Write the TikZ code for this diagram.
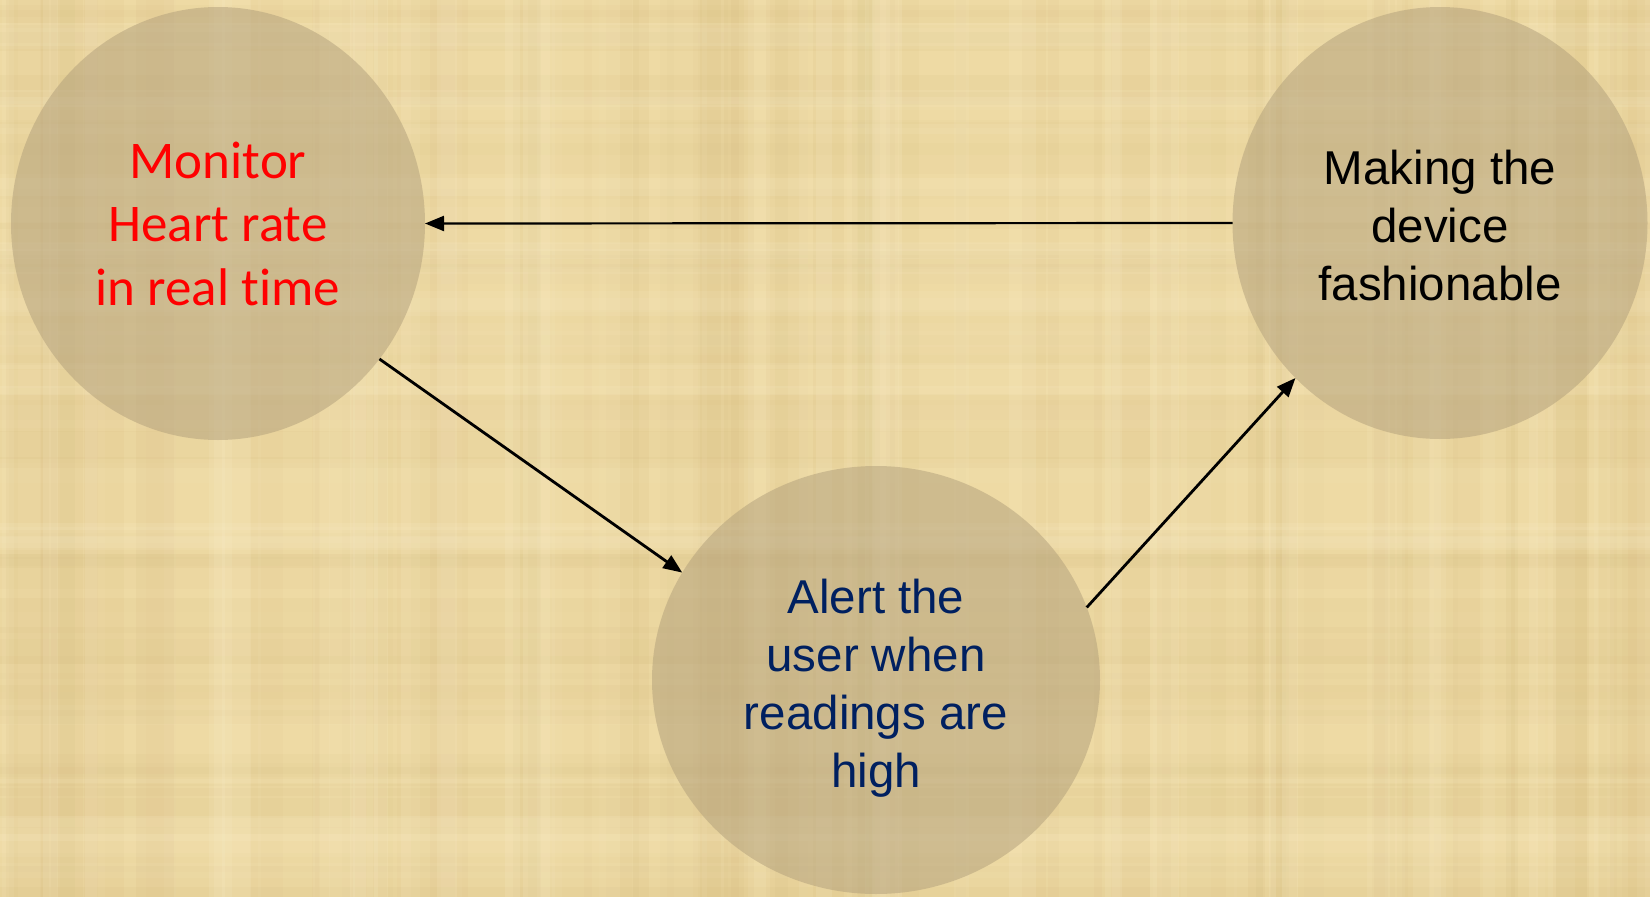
\documentclass[tikz,border=0pt]{standalone}
\usepackage{fontspec}
\setmainfont{Liberation Sans}
\newfontfamily\calibrifont[Ligatures=NoCommon]{Carlito}
\usetikzlibrary{arrows.meta,shapes.geometric}

\definecolor{papyrus}{RGB}{238,218,164}
\definecolor{fibredark}{RGB}{205,178,115}
\definecolor{fibrelight}{RGB}{252,240,205}
\definecolor{discfill}{RGB}{176,158,122}
\definecolor{navytext}{RGB}{0,32,96}

\tikzset{
  disc/.style={ellipse, fill=discfill, fill opacity=0.5,
    inner sep=0pt, outer sep=0pt},
  caption/.style={align=center, inner sep=0pt},
  redtext/.style={caption, text=red, font=\calibrifont\fontsize{53}{63.5}\selectfont},
  blacktext/.style={caption, text=black, font=\fontsize{47.5}{58}\selectfont},
  bluetext/.style={caption, text=navytext, font=\fontsize{47.5}{58}\selectfont},
  link/.style={draw=black, line width=2.8pt, -{Triangle[length=19pt,width=15pt]}},
}

\begin{document}
\begin{tikzpicture}[x=1pt, y=-1pt]
  \useasboundingbox (0,0) rectangle (1650,897);

  % papyrus sheet with faint woven fibres
  \fill[papyrus] (0,0) rectangle (1650,897);
  \begin{scope}
    \clip (0,0) rectangle (1650,897);
    \pgfmathsetseed{4242}
    \foreach \i in {1,...,70} {
      \pgfmathsetmacro\xx{random(0,1650)}
      \pgfmathsetmacro\ww{random(4,45)}
      \pgfmathsetmacro\op{0.03+0.09*rnd}
      \fill[fibredark, opacity=\op] (\xx,0) rectangle ++(\ww,897);
    }
    \foreach \i in {1,...,45} {
      \pgfmathsetmacro\yy{random(0,897)}
      \pgfmathsetmacro\hh{random(4,40)}
      \pgfmathsetmacro\op{0.03+0.07*rnd}
      \fill[fibredark, opacity=\op] (0,\yy) rectangle ++(1650,\hh);
    }
    \foreach \i in {1,...,50} {
      \pgfmathsetmacro\xx{random(0,1650)}
      \pgfmathsetmacro\ww{random(3,30)}
      \pgfmathsetmacro\op{0.05+0.13*rnd}
      \fill[fibrelight, opacity=\op] (\xx,0) rectangle ++(\ww,897);
    }
    \foreach \i in {1,...,30} {
      \pgfmathsetmacro\yy{random(0,897)}
      \pgfmathsetmacro\hh{random(3,25)}
      \pgfmathsetmacro\op{0.05+0.1*rnd}
      \fill[fibrelight, opacity=\op] (0,\yy) rectangle ++(1650,\hh);
    }
  \end{scope}

  % the three goals
  \node[disc, minimum width=414pt, minimum height=433pt] (monitor) at (218,223.5) {};
  \node[disc, minimum width=415pt, minimum height=432pt] (fashion) at (1440,223) {};
  \node[disc, minimum width=448pt, minimum height=428pt] (alert) at (876,680) {};

  \node[redtext] (monitortext) at (monitor.center) {Monitor\\Heart rate\\in real time};
  \node[blacktext] (fashiontext) at ([yshift=-3pt]fashion.center) {Making the\\device\\fashionable};
  \node[bluetext] (alerttext) at ([yshift=-8pt]alert.center) {Alert the\\user when\\readings are\\high};

  % cycle between them
  \draw[link, line width=2.2pt] (fashion.180) -- (monitor.0);
  \draw[link] (monitor.-40) -- (alert.151);
  \draw[link] (alert.19) -- (fashion.227);
\end{tikzpicture}
\end{document}
